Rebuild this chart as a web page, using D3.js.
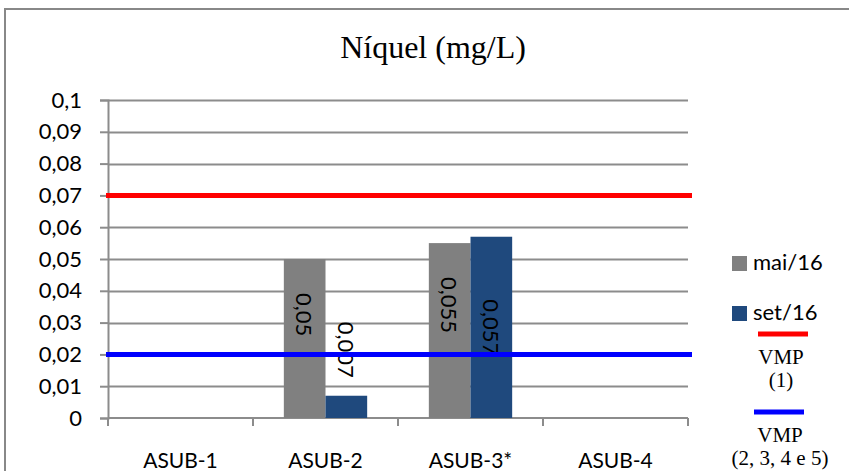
<!DOCTYPE html>
<html>
<head>
<meta charset="utf-8">
<script src="https://cdn.jsdelivr.net/npm/d3@7"></script>
<style>
  html, body { margin: 0; padding: 0; background: #fff; }
  svg { display: block; }
</style>
</head>
<body>
<svg id="chart" width="849" height="471"></svg>
<script>
// Nickel concentration per sampling well, two campaigns
const categories = ["ASUB-1", "ASUB-2", "ASUB-3*", "ASUB-4"];
const seriesNames = ["mai/16", "set/16"];
const maiValues = [null, 0.05, 0.055, null];
const setValues = [null, 0.007, 0.057, null];
const yTicks = [0, 0.01, 0.02, 0.03, 0.04, 0.05, 0.06, 0.07, 0.08, 0.09, 0.1];
const vmpLimits = [0.07, 0.02];
const vmpLabels = [["VMP", "(1)"], ["VMP", "(2, 3, 4 e 5)"]];

const seriesColors = ["#808080", "#1F497D"];
const limitColors = ["#FF0000", "#0000FF"];
const sansFont = "Lato, 'Open Sans', sans-serif";
const serifFont = "'Liberation Serif', 'Times New Roman', serif";
const gridColor = "#8c8c8c";

const svg = d3.select("#chart");
const plot = { left: 108, right: 688, top: 100, bottom: 418 };

// Chart frame
svg.append("rect")
  .attr("x", 5).attr("y", 9)
  .attr("width", 900).attr("height", 500)
  .attr("fill", "#fff")
  .attr("stroke", "#888").attr("stroke-width", 2);

// Title
svg.append("text")
  .attr("x", 433).attr("y", 58)
  .attr("text-anchor", "middle")
  .attr("font-family", serifFont)
  .attr("font-size", 32)
  .attr("fill", "#000")
  .text("Níquel (mg/L)");

const x = d3.scaleBand().domain(categories).range([plot.left, plot.right]).padding(0);
const x1 = d3.scaleBand().domain(seriesNames).range([0, x.bandwidth()]).paddingOuter(0.74).paddingInner(0);
const y = d3.scaleLinear().domain([0, 0.1]).range([plot.bottom, plot.top]);

const fmt = v => String(v).replace(".", ",");

// Horizontal gridlines
svg.append("g").selectAll("line")
  .data(yTicks.filter(t => t > 0))
  .join("line")
  .attr("x1", plot.left).attr("x2", plot.right)
  .attr("y1", d => Math.round(y(d)) + 0.5).attr("y2", d => Math.round(y(d)) + 0.5)
  .attr("stroke", gridColor).attr("stroke-width", 2);

// Y axis
const yAxis = svg.append("g")
  .attr("transform", `translate(${plot.left},0)`)
  .call(d3.axisLeft(y).tickValues(yTicks).tickSize(8).tickPadding(18).tickFormat(fmt));
yAxis.select(".domain").attr("stroke", gridColor).attr("stroke-width", 2);
yAxis.selectAll(".tick line").attr("stroke", gridColor).attr("stroke-width", 2);
yAxis.selectAll(".tick text")
  .attr("font-family", sansFont).attr("font-size", 22).attr("fill", "#000");

// X axis with boundary ticks between categories
const xAxisG = svg.append("g").attr("transform", `translate(0,${plot.bottom})`);
xAxisG.append("line")
  .attr("x1", plot.left).attr("x2", plot.right)
  .attr("y1", 0).attr("y2", 0)
  .attr("stroke", gridColor).attr("stroke-width", 2);
const boundaries = categories.map(c => x(c)).concat([x(categories[categories.length - 1]) + x.bandwidth()]);
xAxisG.selectAll("line.b")
  .data(boundaries)
  .join("line").attr("class", "b")
  .attr("x1", d => d).attr("x2", d => d)
  .attr("y1", 0).attr("y2", 8)
  .attr("stroke", gridColor).attr("stroke-width", 2);
xAxisG.selectAll("text")
  .data(categories)
  .join("text")
  .attr("x", d => x(d) + x.bandwidth() / 2)
  .attr("y", 50)
  .attr("text-anchor", "middle")
  .attr("font-family", sansFont).attr("font-size", 21)
  .attr("fill", "#000")
  .text(d => d);

// Bars
const seriesData = [maiValues, setValues];
const barRows = [];
seriesData.forEach((vals, si) => {
  vals.forEach((v, ci) => {
    if (v !== null) barRows.push({ cat: categories[ci], series: seriesNames[si], si, v });
  });
});

svg.append("g").selectAll("rect")
  .data(barRows)
  .join("rect")
  .attr("x", d => x(d.cat) + x1(d.series))
  .attr("y", d => y(d.v))
  .attr("width", x1.bandwidth())
  .attr("height", d => y(0) - y(d.v))
  .attr("fill", d => seriesColors[d.si]);

// Value labels, rotated to read top-to-bottom
svg.append("g").selectAll("text")
  .data(barRows)
  .join("text")
  .attr("font-family", sansFont).attr("font-size", 22).attr("fill", "#000")
  .attr("dominant-baseline", "central")
  .attr("transform", d => {
    const cx = x(d.cat) + x1(d.series) + x1.bandwidth() / 2;
    const top = y(d.v), h = y(0) - y(d.v);
    let start, anchor;
    if (h < 60) { start = top - 18; anchor = "end"; }
    else if (d.si === 1) { start = top + h / 2; anchor = "middle"; }
    else { start = top + 34; anchor = "start"; }
    d.anchor = anchor;
    return `translate(${cx},${start}) rotate(90)`;
  })
  .attr("text-anchor", d => d.anchor)
  .text(d => fmt(d.v));

// Reference limits (VMP)
svg.append("g").selectAll("line")
  .data(vmpLimits)
  .join("line")
  .attr("x1", plot.left - 2).attr("x2", plot.right + 4)
  .attr("y1", d => y(d)).attr("y2", d => y(d))
  .attr("stroke", (d, i) => limitColors[i]).attr("stroke-width", 5);

// Legend
const legend = svg.append("g");
const legendRows = [259, 309];
seriesNames.forEach((name, i) => {
  legend.append("rect")
    .attr("x", 732).attr("y", legendRows[i] - 3)
    .attr("width", 15).attr("height", 15)
    .attr("fill", seriesColors[i]);
  legend.append("text")
    .attr("x", 753).attr("y", legendRows[i] + 11)
    .attr("font-family", sansFont).attr("font-size", 22).attr("fill", "#000")
    .text(name);
});
const limitLegend = [{ y: 334, x1: 758, x2: 808, cx: 781, base: 364 },
                     { y: 412, x1: 754, x2: 804, cx: 780, base: 442 }];
limitLegend.forEach((p, i) => {
  legend.append("line")
    .attr("x1", p.x1).attr("x2", p.x2).attr("y1", p.y).attr("y2", p.y)
    .attr("stroke", limitColors[i]).attr("stroke-width", 5);
  vmpLabels[i].forEach((t, j) => {
    legend.append("text")
      .attr("x", p.cx).attr("y", p.base + j * 23)
      .attr("text-anchor", "middle")
      .attr("font-family", serifFont).attr("font-size", 21).attr("fill", "#000")
      .text(t);
  });
});
</script>
</body>
</html>
